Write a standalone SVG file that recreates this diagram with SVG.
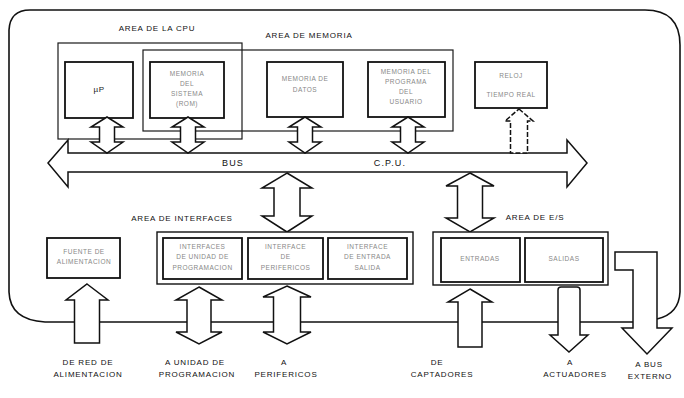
<svg xmlns="http://www.w3.org/2000/svg" width="684" height="398" viewBox="0 0 684 398">
<style>
.bg{fill:#ffffff}
.area{fill:none;stroke:#1a1a1a;stroke-width:1.2}
.box{fill:#ffffff;stroke:#111;stroke-width:1.8}
.grp{fill:#ffffff;stroke:#111;stroke-width:1.4}
.arr{fill:#ffffff;stroke:#111;stroke-width:1.5;stroke-linejoin:miter}
.dash{stroke-dasharray:5 2}
.edge{fill:none;stroke:#111;stroke-width:1.6}
.lbl{font-family:"Liberation Sans",Arial,sans-serif;font-size:8px;letter-spacing:0.8px;fill:#111;text-anchor:middle}
.big{font-size:9px;letter-spacing:1.2px}
.in{font-family:"Liberation Sans",Arial,sans-serif;font-size:6.5px;letter-spacing:0.5px;fill:#888;text-anchor:middle}
.up{font-size:8px;fill:#222}
</style>
<rect class="bg" x="0" y="0" width="684" height="398"/>

<g id="connectors">
  <path class="edge" d="M633,322 L45,322 Q10,320 9,292 L9,30 Q10,10 30,10 L645,10 Q680,10 680,45 L680,292 Q679,314 657,319"/>
</g>

<g id="area-cpu">
  <rect class="area" x="58" y="43" width="184" height="96"/>
  <text class="lbl" x="157" y="31">AREA DE LA CPU</text>
</g>
<g id="area-memoria">
  <rect class="area" x="143" y="50" width="310" height="81"/>
  <text class="lbl" x="309" y="38">AREA DE MEMORIA</text>
</g>

<g id="node-up">
  <rect class="box" x="65" y="62" width="68" height="56"/>
  <text class="in up" x="99" y="92">µP</text>
</g>
<g id="node-mem-sistema">
  <rect class="box" x="150" y="62" width="74" height="56"/>
  <text class="in" x="187" y="76">MEMORIA</text>
  <text class="in" x="187" y="86">DEL</text>
  <text class="in" x="187" y="96">SISTEMA</text>
  <text class="in" x="187" y="106">(ROM)</text>
</g>
<g id="node-mem-datos">
  <rect class="box" x="267" y="62" width="76" height="55"/>
  <text class="in" x="305" y="81">MEMORIA DE</text>
  <text class="in" x="305" y="92">DATOS</text>
</g>
<g id="node-mem-programa">
  <rect class="box" x="368" y="62" width="77" height="55"/>
  <text class="in" x="406" y="74">MEMORIA DEL</text>
  <text class="in" x="406" y="84">PROGRAMA</text>
  <text class="in" x="406" y="94">DEL</text>
  <text class="in" x="406" y="104">USUARIO</text>
</g>
<g id="node-reloj">
  <rect class="box" x="475" y="62" width="72" height="46"/>
  <text class="in" x="511" y="78">RELOJ</text>
  <text class="in" x="511" y="97">TIEMPO REAL</text>
</g>

<g id="connectors-arrows">
  <!-- bus -->
  <polygon class="arr" points="48,163 68,140 68,153 567,153 567,140 587,163 567,187 567,172 68,172 68,187"/>
  <!-- top double arrows -->
  <polygon class="arr" points="107,117 123,127 114.5,127 114.5,142 123,142 107,153 91,142 99.5,142 99.5,127 91,127"/>
  <polygon class="arr" points="188,117 204,127 195.5,127 195.5,142 204,142 188,153 172,142 180.5,142 180.5,127 172,127"/>
  <polygon class="arr" points="305,117 321,127 312.5,127 312.5,142 321,142 305,153 289,142 297.5,142 297.5,127 289,127"/>
  <polygon class="arr" points="408,117 424,127 415.5,127 415.5,142 424,142 408,153 392,142 400.5,142 400.5,127 392,127"/>
  <polygon class="arr dash" points="519,109 533,121 527.5,121 527.5,153 510.5,153 510.5,121 505,121"/>
  <!-- bus to interfaces / E/S -->
  <polygon class="arr" points="287,173 312,188 300,188 300,216 312,216 287,232 262,216 274,216 274,188 262,188"/>
  <polygon class="arr" points="470,173 494,186 482.5,186 482.5,218 494,218 470,232 446,218 457.5,218 457.5,186 446,186"/>
  <!-- bottom arrows -->
  <polygon class="arr" points="87,284 108,300 99.5,300 99.5,343 74.5,343 74.5,300 66,300"/>
  <polygon class="arr" points="199,287 222,300 211,300 211,332 222,332 199,344 176,332 187,332 187,300 176,300"/>
  <polygon class="arr" points="287,286 311,297 300.5,297 300.5,332 311,332 287,344 263,332 273.5,332 273.5,297 263,297"/>
  <polygon class="arr" points="470,289 492,302 482,302 482,347 458,347 458,302 448,302"/>
  <path class="arr" d="M558,290 Q558,287 561,287 L577,287 Q580,287 580,290 L580,335 L588,335 L569,352 L550,335 L558,335 Z"/>
  <polygon class="arr" points="615,252 657,252 657,328 672,328 647,354 622,328 633,328 633,270 615,270"/>
</g>

<g id="area-interfaces">
  <rect class="grp" x="157" y="232" width="256" height="52"/>
  <text class="lbl" x="182" y="221">AREA DE INTERFACES</text>
</g>
<g id="node-fuente">
  <rect class="box" x="47" y="238" width="73" height="40"/>
  <text class="in" x="84" y="254">FUENTE DE</text>
  <text class="in" x="84" y="264">ALIMENTACION</text>
</g>
<g id="node-if-programacion">
  <rect class="box" x="163" y="238" width="79" height="41"/>
  <text class="in" x="202.5" y="249">INTERFACES</text>
  <text class="in" x="202.5" y="259">DE UNIDAD DE</text>
  <text class="in" x="202.5" y="270">PROGRAMACION</text>
</g>
<g id="node-if-perifericos">
  <rect class="box" x="248" y="238" width="75" height="41"/>
  <text class="in" x="285.5" y="249">INTERFACE</text>
  <text class="in" x="285.5" y="259">DE</text>
  <text class="in" x="285.5" y="270">PERIFERICOS</text>
</g>
<g id="node-if-es">
  <rect class="box" x="328" y="238" width="79" height="41"/>
  <text class="in" x="367.5" y="249">INTERFACE</text>
  <text class="in" x="367.5" y="259">DE ENTRADA</text>
  <text class="in" x="367.5" y="270">SALIDA</text>
</g>

<g id="area-es">
  <rect class="grp" x="433" y="232" width="175" height="53"/>
  <text class="lbl" x="535" y="220">AREA DE E/S</text>
</g>
<g id="node-entradas">
  <rect class="box" x="441" y="238" width="79" height="44"/>
  <text class="in" x="480" y="261">ENTRADAS</text>
</g>
<g id="node-salidas">
  <rect class="box" x="525" y="238" width="78" height="44"/>
  <text class="in" x="564" y="261">SALIDAS</text>
</g>

<g id="labels">
  <text class="lbl big" x="233" y="166">BUS</text>
  <text class="lbl big" x="390" y="166">C.P.U.</text>
  <text class="lbl" x="88" y="365">DE RED DE</text>
  <text class="lbl" x="88" y="377">ALIMENTACION</text>
  <text class="lbl" x="195" y="365">A UNIDAD DE</text>
  <text class="lbl" x="197" y="377">PROGRAMACION</text>
  <text class="lbl" x="284" y="365">A</text>
  <text class="lbl" x="286" y="377">PERIFERICOS</text>
  <text class="lbl" x="437" y="365">DE</text>
  <text class="lbl" x="442" y="377">CAPTADORES</text>
  <text class="lbl" x="570" y="365">A</text>
  <text class="lbl" x="575" y="377">ACTUADORES</text>
  <text class="lbl" x="649" y="367">A BUS</text>
  <text class="lbl" x="650" y="379">EXTERNO</text>
</g>
</svg>
